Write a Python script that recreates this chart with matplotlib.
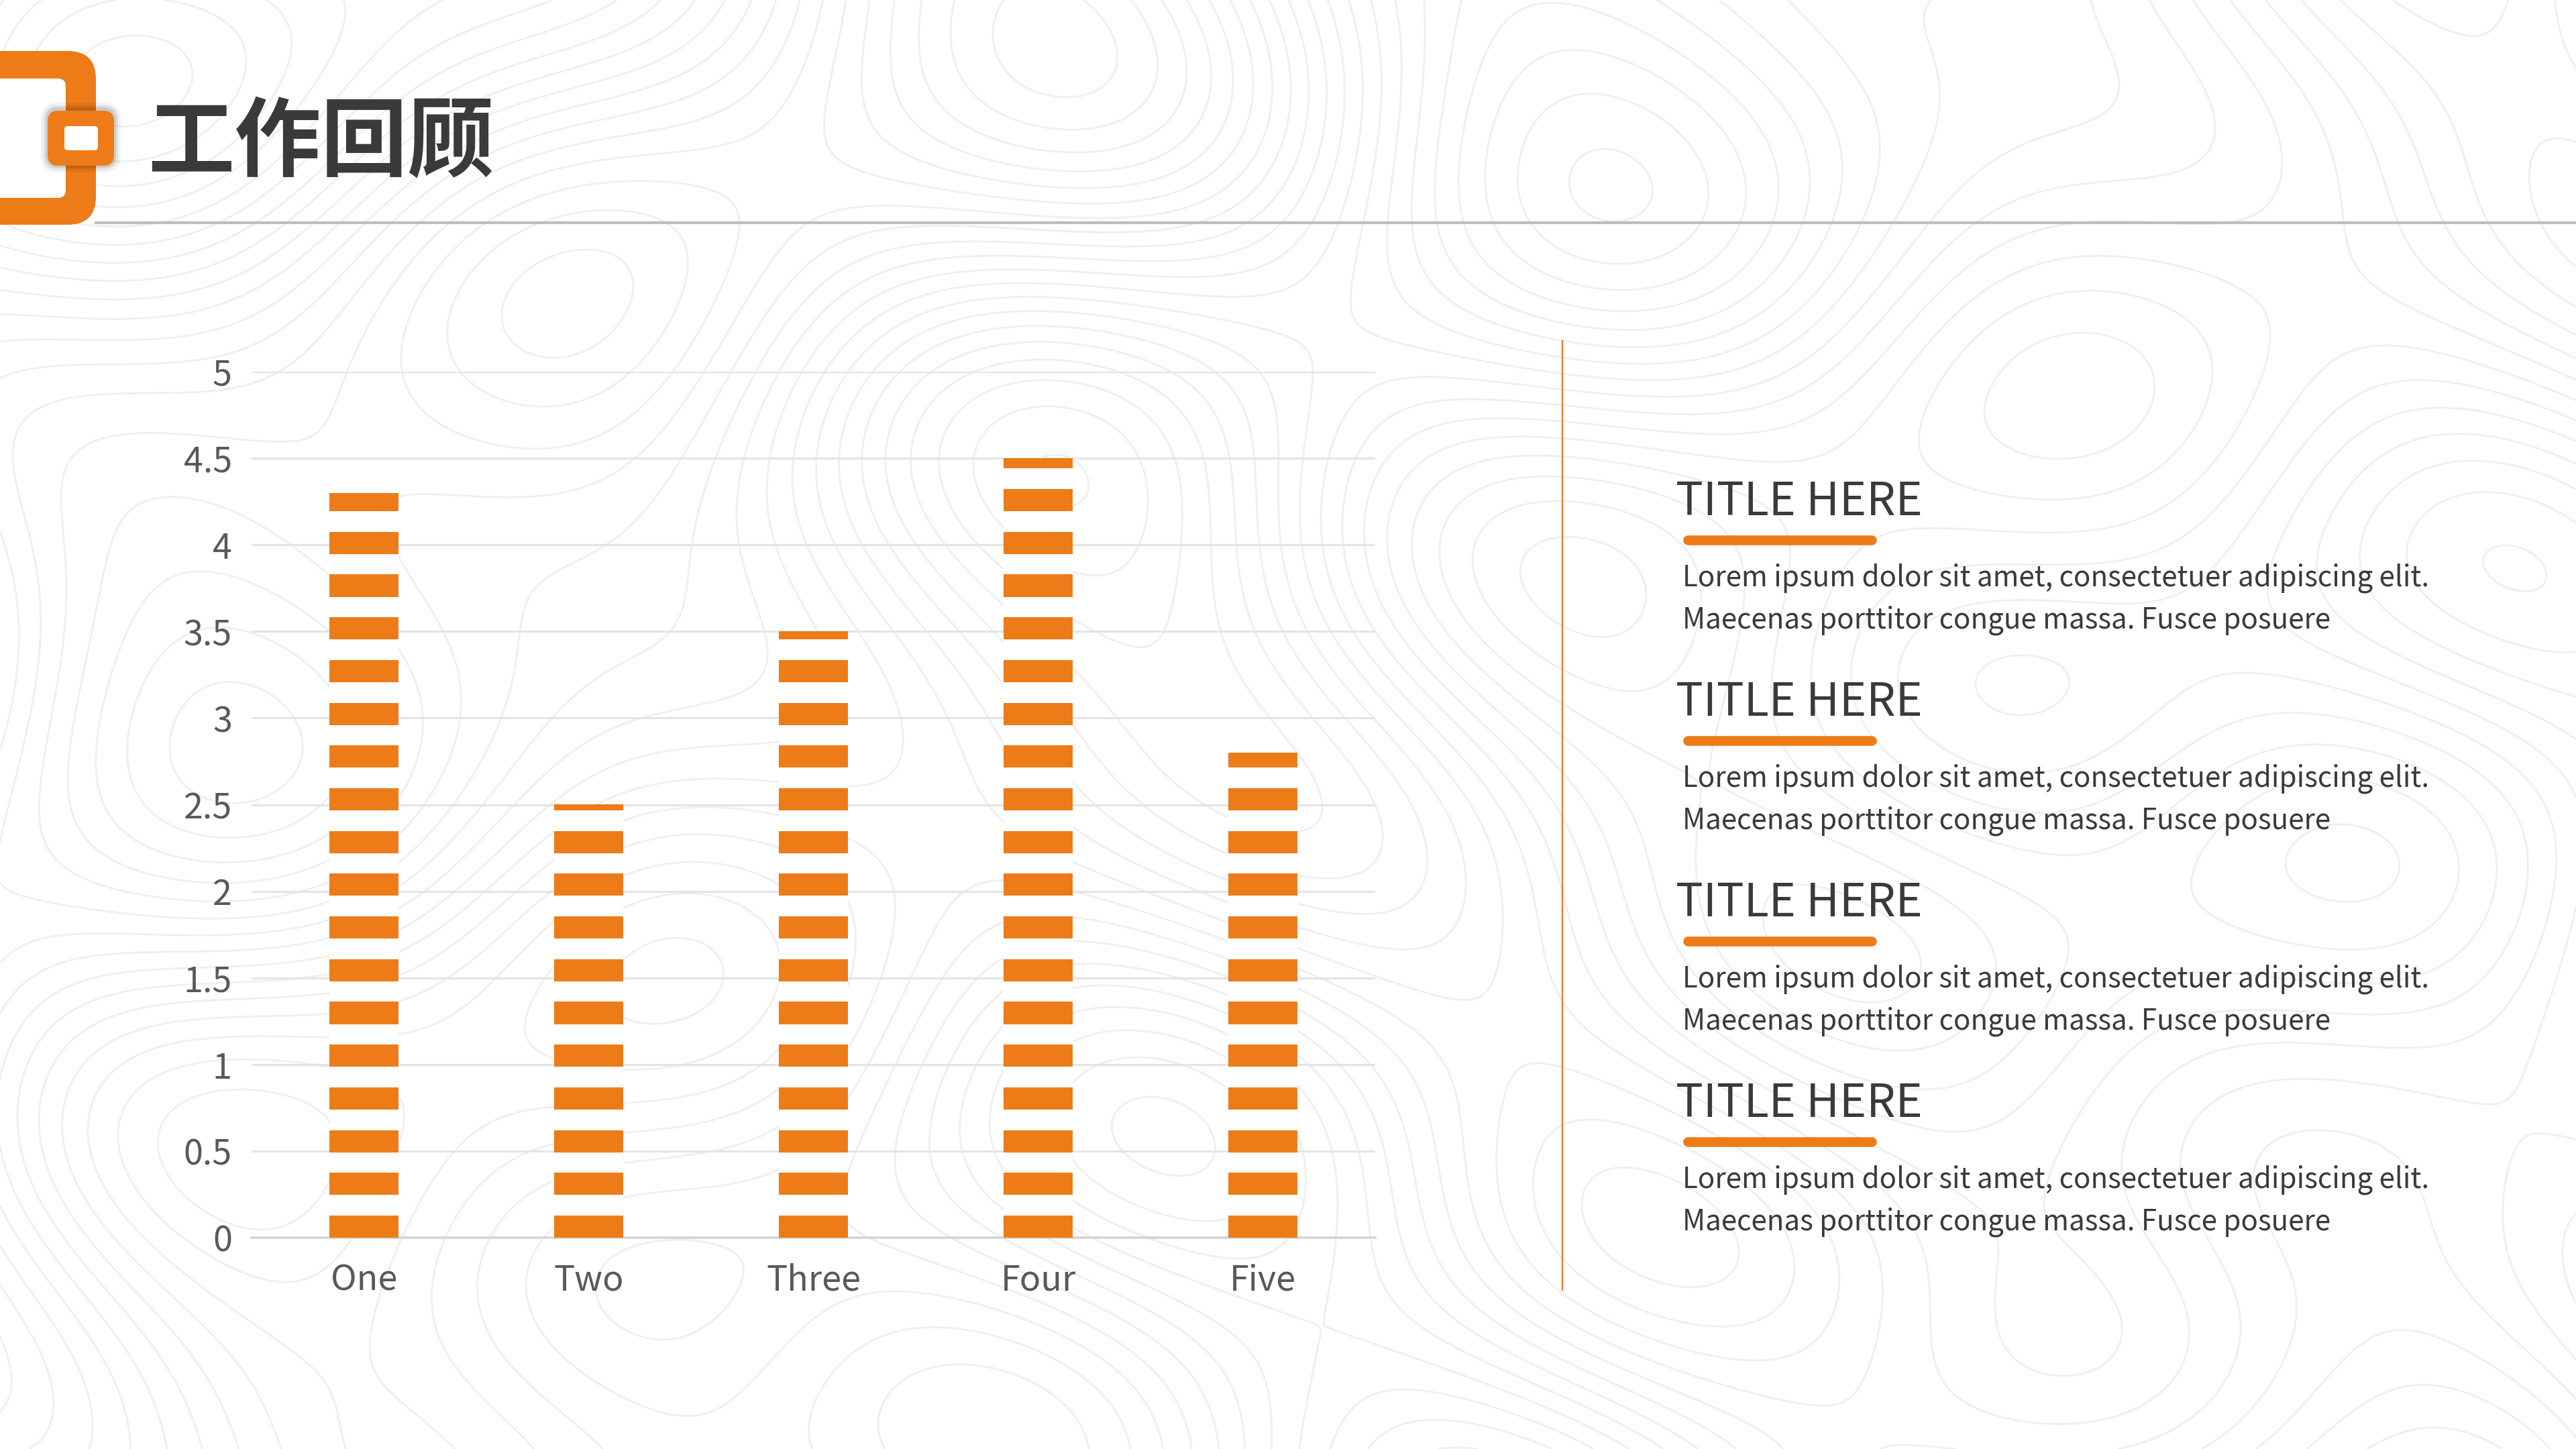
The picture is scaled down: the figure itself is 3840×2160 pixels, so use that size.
import numpy as np
import matplotlib.pyplot as plt
from matplotlib.patches import FancyBboxPatch

plt.rcParams['font.family'] = ['Noto Sans CJK SC', 'DejaVu Sans']

# data
categories = ['One', 'Two', 'Three', 'Four', 'Five']
values = [4.3, 2.5, 3.5, 4.5, 2.8]
y_ticks = [0, 0.5, 1, 1.5, 2, 2.5, 3, 3.5, 4, 4.5, 5]
title = '工作回顾'
panel_titles = ['TITLE HERE', 'TITLE HERE', 'TITLE HERE', 'TITLE HERE']
panel_lines = ['Lorem ipsum dolor sit amet, consectetuer adipiscing elit.',
               'Maecenas porttitor congue massa. Fusce posuere']

ORANGE = '#ed7b17'
DARK = '#3a3a38'
W, H = 3840, 2160

fig = plt.figure(figsize=(12.8, 7.2), dpi=300)
fig.patch.set_facecolor('white')

# decoration layer in pixel coordinates
deco = fig.add_axes([0, 0, 1, 1], zorder=0)
deco.set_xlim(0, W)
deco.set_ylim(H, 0)
deco.axis('off')

# faint topographic texture
gx = np.linspace(0, W, 480)
gy = np.linspace(0, H, 270)
X, Y = np.meshgrid(gx, gy)
Z = (np.sin(X / 310.0) * np.cos(Y / 260.0)
     + 0.7 * np.sin((X + Y) / 420.0 + 1.3)
     + 0.5 * np.cos(X / 170.0 - Y / 230.0)
     + 0.35 * np.sin(Y / 120.0 + X / 520.0))
deco.contour(X, Y, Z, levels=22, colors='#efefef', linewidths=0.7,
             linestyles='solid', zorder=0)

# logo bracket
deco.add_patch(FancyBboxPatch((-80, 76), 223, 259, boxstyle='round,pad=0,rounding_size=42',
                              fc=ORANGE, ec='none', zorder=2))
deco.add_patch(FancyBboxPatch((-80, 117), 178, 178, boxstyle='round,pad=0,rounding_size=12',
                              fc='white', ec='none', zorder=3))
# shadow + small square
for k, a in [(10, 0.05), (6, 0.07), (3, 0.09)]:
    deco.add_patch(FancyBboxPatch((71 - k, 163 - k), 99 + 2 * k, 84 + 2 * k,
                                  boxstyle='round,pad=0,rounding_size=%d' % (16 + k),
                                  fc='black', ec='none', alpha=a, zorder=4))
deco.add_patch(FancyBboxPatch((71, 165), 99, 82, boxstyle='round,pad=0,rounding_size=16',
                              fc=ORANGE, ec='none', zorder=5))
deco.add_patch(FancyBboxPatch((96, 188), 50, 36, boxstyle='round,pad=0,rounding_size=5',
                              fc='white', ec='none', zorder=6))

deco.text(220, 216, title, fontsize=31, fontweight='bold', color=DARK,
          ha='left', va='center', zorder=5)
deco.plot([143, W], [332, 332], color='#bdbdbd', lw=1.0, zorder=1)

# divider
deco.plot([2329, 2329], [508, 1923], color=ORANGE, lw=0.55, zorder=1)

# right panel
for i, t in enumerate(panel_titles):
    y0 = 749 + i * 299
    deco.text(2498, y0, t, fontsize=16.4, color=DARK, ha='left', va='center', zorder=3)
    deco.plot([2516, 2790], [y0 + 56, y0 + 56], color=ORANGE, lw=3.5,
              solid_capstyle='round', zorder=3)
    for j, line in enumerate(panel_lines):
        deco.text(2508, y0 + 113 + j * 63, line, fontsize=10.1, color=DARK,
                  ha='left', va='center', zorder=3)

# chart
ax = fig.add_axes([375 / W, 1 - 1845 / H, 1675 / W, 1291 / H], zorder=1)
ax.set_facecolor('none')
x = np.arange(len(categories))
bar_w = 0.31
period = 0.2467
stripe = 0.128
for xi, v in zip(x, values):
    ax.bar(xi, v, bar_w, color='white', zorder=2)
    bottoms = np.arange(0, v, period)
    heights = np.minimum(stripe, v - bottoms)
    ax.bar(np.full(len(bottoms), xi), heights, bar_w, bottom=bottoms,
           color=ORANGE, zorder=3)

ax.set_xlim(-0.5, len(categories) - 0.5)
ax.set_ylim(0, 5)
ax.set_yticks(y_ticks)
ax.set_yticklabels([f'{v:g}' for v in y_ticks])
ax.set_xticks(x)
ax.set_xticklabels(categories)
ax.grid(axis='y', color='#e4e4e4', lw=0.75, zorder=0)
ax.grid(axis='x', visible=False)
for s in ['left', 'right', 'top']:
    ax.spines[s].set_visible(False)
ax.spines['bottom'].set_color('#d6d6d6')
ax.spines['bottom'].set_linewidth(0.9)
ax.tick_params(axis='both', length=0, labelsize=12.5, labelcolor='#595959')
ax.tick_params(axis='y', pad=7)
ax.tick_params(axis='x', pad=9)
ax.set_axisbelow(True)

fig.savefig('out.png', dpi=300, facecolor='white')
